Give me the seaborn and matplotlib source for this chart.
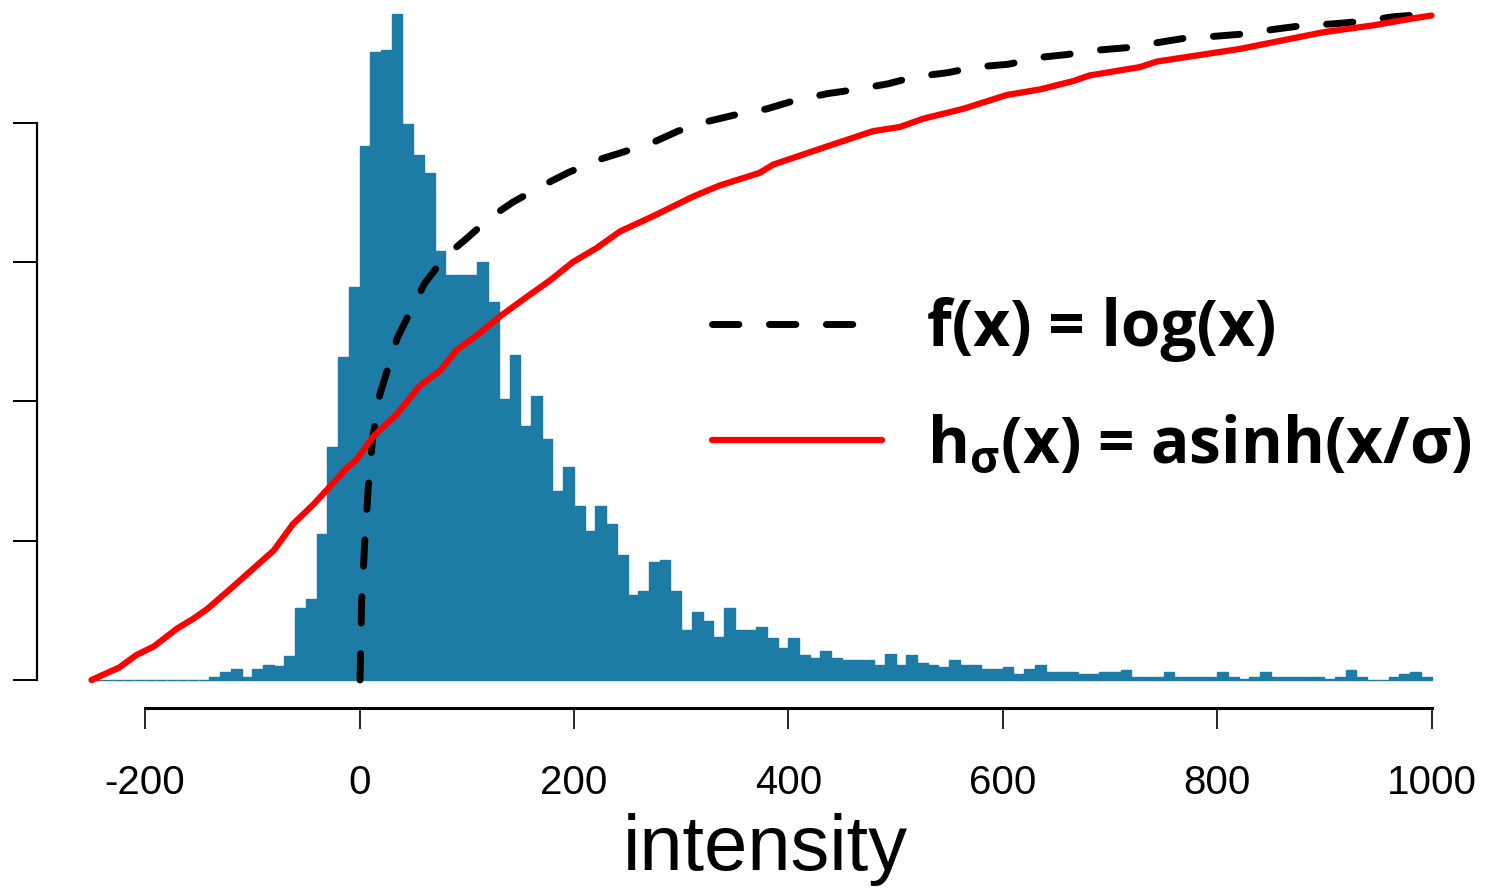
import numpy as np
import pandas as pd
import matplotlib
matplotlib.use("Agg")
import matplotlib.pyplot as plt
import seaborn as sns

# histogram counts, one per 10-unit bin from -250 to 1000
bin_edges = list(range(-250, 1001, 10))
counts = [0, 0, 0, 0, 0, 0, 0, 0, 0, 0, 0,
          2, 6, 8, 2, 8, 11, 10, 17, 52, 58, 105, 167, 232, 282,
          383, 451, 452, 478, 399, 377, 364, 308, 291, 291,
          291, 300, 271, 202, 233, 182, 204, 173, 136, 153,
          125, 107, 125, 112, 90, 61, 64, 85, 86, 64,
          36, 49, 42, 31, 52, 36, 36, 38, 30, 23,
          30, 18, 16, 21, 16, 14, 14, 14, 11, 19,
          11, 18, 12, 11, 9, 14, 11, 11, 8, 8,
          9, 4, 8, 11, 6, 6, 6, 4, 4, 6,
          6, 7, 2, 2, 2, 6, 2, 2, 2, 2,
          6, 2, 1, 2, 6, 2, 2, 2, 2, 2,
          1, 2, 7, 2, 0, 0, 2, 4, 6, 2]

# asinh curve (scaled to histogram height)
asinh_x = [-250, -224, -208, -192, -170, -155, -142, -121, -99, -80, -62, -43, -31, -12, -3,
           13, 35, 56, 75, 91, 112, 131, 156, 178, 199, 221, 243, 274, 311, 336, 373, 386,
           436, 479, 504, 526, 563, 604, 635, 666, 681, 728, 744, 821, 899, 946, 983, 1000]
asinh_y = [0, 9, 18, 24, 37, 44, 51, 65, 80, 93, 112, 126, 136, 152, 158,
           175, 191, 211, 222, 237, 249, 261, 275, 287, 300, 310, 322, 333, 347, 355, 364, 370,
           383, 394, 397, 403, 410, 420, 424, 430, 434, 440, 444, 453, 465, 470, 475, 477]

# log curve (scaled to histogram height)
log_x = [0.5, 2, 5, 8, 12, 19, 27, 35, 49, 61, 80, 100, 122, 143, 171, 194, 221, 246,
         274, 297, 325, 352, 380, 406, 437, 464, 493, 518, 549, 574, 605, 635, 660, 686,
         717, 740, 772, 796, 829, 852, 882, 908, 938, 963, 994, 1000]
log_y = [0, 57, 100, 136, 172, 205, 225, 245, 267, 285, 304, 317, 332, 343, 355, 364, 373, 379,
         386, 394, 401, 406, 410, 416, 421, 424, 428, 433, 436, 440, 442, 447, 449, 452,
         454, 457, 461, 462, 464, 467, 470, 471, 473, 476, 478, 478]

x_ticks = [-200, 0, 200, 400, 600, 800, 1000]
y_ticks = [0, 100, 200, 300, 400]

bar_color = "#1d7ca6"

sns.set_style("ticks")
plt.rcParams["font.family"] = ["Liberation Sans", "DejaVu Sans"]
plt.rcParams["text.color"] = "black"
plt.rcParams["axes.labelcolor"] = "black"
plt.rcParams["axes.edgecolor"] = "black"
plt.rcParams["xtick.color"] = "black"
plt.rcParams["ytick.color"] = "black"
plt.rcParams["mathtext.fontset"] = "custom"
plt.rcParams["mathtext.rm"] = "Open Sans:bold"
plt.rcParams["mathtext.it"] = "Open Sans:bold"
plt.rcParams["mathtext.bf"] = "Open Sans:bold"

W, H = 1486, 891
fig = plt.figure(figsize=(W / 100, H / 100), dpi=100)

# axes placed so that 0 sits at x=359.5px, 1 unit = 1.072px, count 0 at y=680px
xmin, xmax = -260, 1017
ymin, ymax = -14, 484
left_px = 359.5 + 1.072 * xmin
right_px = 359.5 + 1.072 * xmax
bottom_px = 680 - 1.393 * ymin
top_px = 680 - 1.393 * ymax
ax = fig.add_axes([left_px / W, 1 - bottom_px / H, (right_px - left_px) / W, (bottom_px - top_px) / H])

hist_df = pd.DataFrame({"intensity": [e + 5 for e in bin_edges[:-1]], "n": counts})
sns.histplot(data=hist_df, x="intensity", weights="n", bins=bin_edges, ax=ax,
             color=bar_color, alpha=1, edgecolor=bar_color, linewidth=1)

sns.lineplot(x=log_x, y=log_y, ax=ax, color="black", linewidth=5, sort=False, estimator=None,
             linestyle=(0, (3.8, 4.4)), dash_capstyle="round", label="f(x) = log(x)")
sns.lineplot(x=asinh_x, y=asinh_y, ax=ax, color="red", linewidth=4.5, sort=False, estimator=None,
             label="h$_σ$(x) = asinh(x/σ)")

ax.set_xlim(xmin, xmax)
ax.set_ylim(ymin, ymax)

# R-style detached axes
for side in ["top", "right"]:
    ax.spines[side].set_visible(False)
ax.spines["left"].set_position(("outward", (left_px - 37) * 0.72))
ax.spines["bottom"].set_position(("outward", (708 - bottom_px) * 0.72))
ax.spines["left"].set_bounds(0, 400)
ax.spines["bottom"].set_bounds(-200, 1000)
ax.spines["left"].set_linewidth(1.6)
ax.spines["bottom"].set_linewidth(2.2)

ax.set_xticks(x_ticks)
ax.set_xticklabels([str(t) for t in x_ticks])
ax.set_yticks(y_ticks)
ax.set_yticklabels([])
ax.tick_params(axis="x", length=15, width=1.2, pad=25, labelsize=29)
ax.tick_params(axis="y", length=17, width=1.4)

ax.set_ylabel("")
ax.set_xlabel("intensity", fontsize=56, labelpad=8)

leg = ax.legend(loc="upper left", bbox_to_anchor=(712 / W, 1 - 297 / H), bbox_transform=fig.transFigure,
                frameon=False, prop={"family": "Open Sans", "weight": "bold", "size": 46},
                handlelength=2.66, handletextpad=0.7, labelspacing=0.81, borderpad=0, borderaxespad=0)

fig.savefig("out.png", dpi=100)
